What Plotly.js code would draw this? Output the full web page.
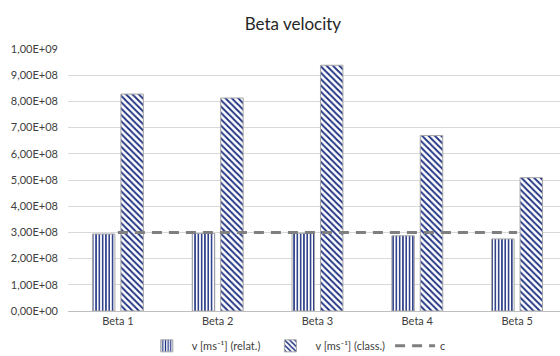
<!DOCTYPE html>
<html>
<head>
<meta charset="utf-8">
<script src="https://cdn.plot.ly/plotly-3.0.1.min.js"></script>
<style>
  html, body { margin: 0; padding: 0; background: #fff; overflow: hidden; }
  #chart { width: 560px; height: 372px; }
</style>
</head>
<body>
<div id="chart"></div>
<script>
// Beta particle velocities: relativistic vs. classical estimate, with the speed of light
const categories = ['Beta 1', 'Beta 2', 'Beta 3', 'Beta 4', 'Beta 5'];
const vRelat = [2.94e8, 2.96e8, 2.97e8, 2.87e8, 2.75e8];
const vClass = [8.28e8, 8.13e8, 9.38e8, 6.70e8, 5.09e8];
const cLight = [3.0e8, 3.0e8, 3.0e8, 3.0e8, 3.0e8];

const yTickVals = [0, 1e8, 2e8, 3e8, 4e8, 5e8, 6e8, 7e8, 8e8, 9e8, 1e9];
const yTickText = ['0,00E+00', '1,00E+08', '2,00E+08', '3,00E+08', '4,00E+08',
                   '5,00E+08', '6,00E+08', '7,00E+08', '8,00E+08', '9,00E+08', '1,00E+09'];

const navy = '#1c2f80';
const font = "Lato, 'Open Sans', sans-serif";

const traces = [
  {
    type: 'bar', name: 'v [ms⁻¹] (relat.)', x: categories, y: vRelat,
    marker: {
      color: 'white',
      line: { color: '#a6a6a6', width: 1 },
      pattern: { shape: '|', fgcolor: navy, bgcolor: 'white', size: 3.3, solidity: 0.45, fillmode: 'replace' }
    },
    hoverinfo: 'x+y'
  },
  {
    type: 'bar', name: 'v [ms⁻¹] (class.)', x: categories, y: vClass,
    marker: {
      color: 'white',
      line: { color: '#a6a6a6', width: 1 },
      pattern: { shape: '\\', fgcolor: navy, bgcolor: 'white', size: 4.5, solidity: 0.4, fillmode: 'replace' }
    },
    hoverinfo: 'x+y'
  },
  {
    type: 'scatter', mode: 'lines', name: 'c', x: categories, y: cLight,
    line: { color: '#7f7f7f', width: 3, dash: '10px,7px' },
    hoverinfo: 'x+y'
  }
];

const layout = {
  width: 560, height: 372,
  margin: { l: 68, r: 0, t: 49, b: 61 },
  paper_bgcolor: 'white', plot_bgcolor: 'white',
  font: { family: font, size: 11, color: '#595959' },
  title: {
    text: 'Beta velocity',
    x: 0.523, xref: 'container', xanchor: 'center',
    y: 22, yref: 'container', yanchor: 'middle',
    font: { family: font, size: 17, color: '#262626' }
  },
  barmode: 'group',
  bargap: 0.43,
  bargroupgap: 0.21,
  xaxis: {
    type: 'category',
    range: [-0.5, 4.43],
    showgrid: false,
    showline: true, linecolor: '#bfbfbf', linewidth: 1,
    ticks: '', tickfont: { family: font, size: 11, color: '#404040' },
    fixedrange: true
  },
  yaxis: {
    range: [0, 1e9],
    tickvals: yTickVals, ticktext: yTickText,
    showgrid: true, gridcolor: '#d9d9d9', gridwidth: 1,
    zeroline: false, showline: false,
    ticks: '', ticklabelstandoff: 9,
    tickfont: { family: font, size: 11, color: '#404040' },
    fixedrange: true
  },
  showlegend: true,
  legend: {
    orientation: 'h',
    x: 0.15, xanchor: 'left',
    y: -0.133, yanchor: 'middle',
    font: { family: font, size: 11, color: '#404040' },
    itemwidth: 40,
    traceorder: 'normal'
  }
};

Plotly.newPlot('chart', traces, layout, { displayModeBar: false, staticPlot: true });
</script>
</body>
</html>
